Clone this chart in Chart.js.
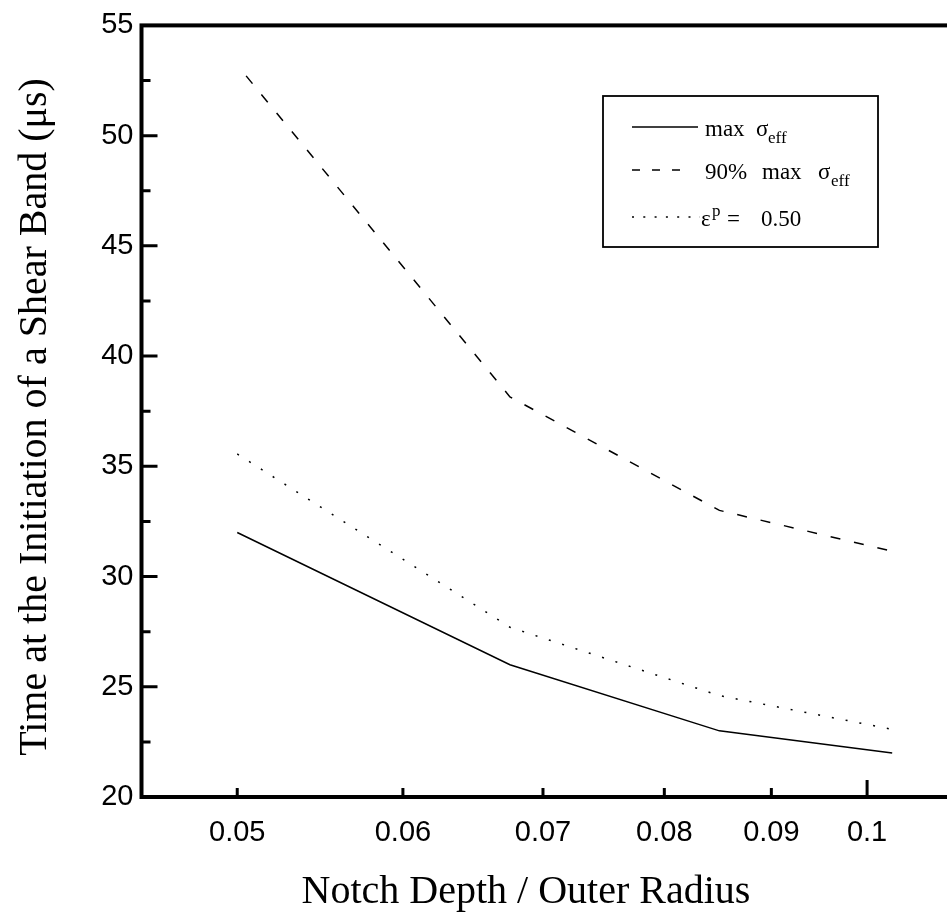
<!DOCTYPE html>
<html>
<head>
<meta charset="utf-8">
<script src="https://cdn.jsdelivr.net/npm/chart.js@4.4.0/dist/chart.umd.min.js"></script>
<style>
html, body { margin:0; padding:0; background:#fff; overflow:hidden; }
#wrap { width:960px; height:918px; }
</style>
</head>
<body>
<div id="wrap"><canvas id="chart" width="960" height="918"></canvas></div>
<script>
"use strict";

// notch depth / outer radius
const notchRatio = [0.05, 0.0675, 0.085, 0.1028];
// time at initiation of a shear band (us)
const maxSigma   = [32.0, 26.0, 23.0, 22.0];
const sigma90    = [53.2, 38.15, 33.0, 31.15];
const strainHalf = [35.56, 27.7, 24.6, 23.07];

const xTickValues = [0.05, 0.06, 0.07, 0.08, 0.09, 0.1];
const xTickLabels = ["0.05", "0.06", "0.07", "0.08", "0.09", "0.1"];
const yTickLabels = ["20", "25", "30", "35", "40", "45", "50", "55"];

const SERIF = "'Liberation Serif', 'Times New Roman', serif";
const SANS  = "'Liberation Sans', Arial, sans-serif";

Chart.defaults.color = '#000';
Chart.defaults.font.family = SANS;

function pts(ys) {
  return ys.map((y, i) => ({ x: notchRatio[i], y: y }));
}

// frame + inward tick marks, axis titles
const frameTicks = {
  id: 'frameTicks',
  afterDatasetsDraw(chart) {
    const { ctx, chartArea: a, scales: { x, y } } = chart;
    ctx.save();
    ctx.strokeStyle = '#000';
    ctx.lineWidth = 4;
    ctx.strokeRect(a.left, a.top, a.right - a.left, a.bottom - a.top);

    ctx.lineWidth = 3;
    ctx.beginPath();
    y.ticks.forEach(t => {
      const py = y.getPixelForValue(t.value);
      const len = (t.value % 5 === 0) ? 16 : 9;
      ctx.moveTo(a.left, py);
      ctx.lineTo(a.left + len, py);
    });
    x.ticks.forEach(t => {
      const px = x.getPixelForValue(t.value);
      const len = (t.value === 0.1) ? 17 : 9;
      ctx.moveTo(px, a.bottom);
      ctx.lineTo(px, a.bottom - len);
    });
    ctx.stroke();

    // axis titles
    ctx.fillStyle = '#000';
    ctx.font = "40px " + SERIF;
    ctx.textAlign = 'center';
    ctx.textBaseline = 'alphabetic';
    ctx.fillText("Notch Depth / Outer Radius", 526, 903);

    ctx.translate(46, 417);
    ctx.rotate(-Math.PI / 2);
    ctx.fillText("Time at the Initiation of a Shear Band (\u03bcs)", 0, 0);
    ctx.restore();
  }
};

// legend with sub/superscripts
const legendRows = [
  { dash: [],      lineEnd: 698, lineY: 127, base: 136,
    parts: [["max", 705, 0], ["\u03c3", 756, 0], ["eff", 768, 1]] },
  { dash: [8, 12], lineEnd: 680, lineY: 170, base: 179,
    parts: [["90%", 705, 0], ["max", 762, 0], ["\u03c3", 818, 0], ["eff", 831, 1]] },
  { dash: [2, 9.3], lineEnd: 700, lineY: 217, base: 226,
    parts: [["\u03b5", 701, 0], ["p", 712, -1], ["=", 727, 0], ["0.50", 761, 0]] }
];

const boxLegend = {
  id: 'boxLegend',
  afterDraw(chart) {
    const ctx = chart.ctx;
    ctx.save();
    ctx.strokeStyle = '#000';
    ctx.lineWidth = 1.8;
    ctx.strokeRect(603, 96, 275, 151);

    legendRows.forEach(r => {
      ctx.lineWidth = 1.5;
      ctx.setLineDash(r.dash);
      ctx.beginPath();
      ctx.moveTo(632, r.lineY);
      ctx.lineTo(r.lineEnd, r.lineY);
      ctx.stroke();
      ctx.setLineDash([]);

      ctx.fillStyle = '#000';
      ctx.textAlign = 'left';
      ctx.textBaseline = 'alphabetic';
      r.parts.forEach(p => {
        if (p[2] === 0) {
          ctx.font = "23px " + SERIF;
          ctx.fillText(p[0], p[1], r.base);
        } else if (p[2] === 1) {
          ctx.font = "17px " + SERIF;
          ctx.fillText(p[0], p[1], r.base + 7);
        } else {
          ctx.font = "17px " + SERIF;
          ctx.fillText(p[0], p[1], r.base - 10);
        }
      });
    });
    ctx.restore();
  }
};

const lineStyle = { borderColor: '#000', borderWidth: 1.5, pointRadius: 0, tension: 0, fill: false };

new Chart(document.getElementById('chart'), {
  type: 'line',
  data: {
    datasets: [
      Object.assign({ label: 'max \u03c3eff', data: pts(maxSigma) }, lineStyle),
      Object.assign({ label: '90% max \u03c3eff', data: pts(sigma90), borderDash: [10, 14], borderDashOffset: 10 }, lineStyle),
      Object.assign({ label: '\u03b5p = 0.50', data: pts(strainHalf), borderDash: [2, 12] }, lineStyle)
    ]
  },
  options: {
    responsive: false,
    animation: false,
    layout: { padding: { top: 21, right: 6.3, left: 0, bottom: 0 } },
    plugins: { legend: { display: false }, tooltip: { enabled: false } },
    scales: {
      x: {
        type: 'logarithmic',
        min: 0.045,
        max: 0.11,
        border: { display: false },
        grid: { display: false, drawTicks: false },
        afterBuildTicks: s => { s.ticks = xTickValues.map(v => ({ value: v })); },
        afterFit: s => { s.height = 121; },
        ticks: {
          autoSkip: false,
          maxRotation: 0,
          padding: 19,
          font: { size: 29 },
          callback: (v) => xTickLabels[xTickValues.indexOf(v)]
        }
      },
      y: {
        min: 20,
        max: 55,
        border: { display: false },
        grid: { display: false, drawTicks: false },
        afterFit: s => { s.width = 141.5; },
        ticks: {
          stepSize: 2.5,
          autoSkip: false,
          padding: 8,
          font: { size: 29 },
          callback: (v) => (v % 5 === 0 ? yTickLabels[(v - 20) / 5] : '')
        }
      }
    }
  },
  plugins: [frameTicks, boxLegend]
});
</script>
</body>
</html>
